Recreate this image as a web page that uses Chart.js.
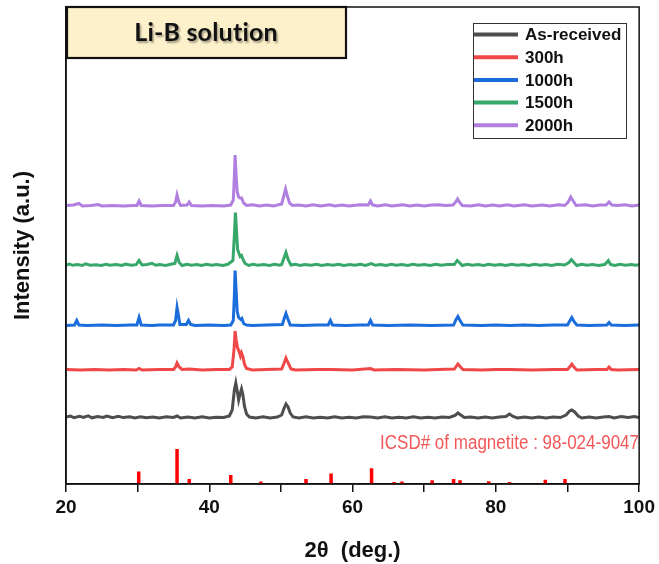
<!DOCTYPE html>
<html>
<head>
<meta charset="utf-8">
<title>Li-B solution XRD</title>
<script src="https://cdn.jsdelivr.net/npm/chart.js@4.4.1/dist/chart.umd.min.js"></script>
<style>
  html, body { margin: 0; padding: 0; background: #fff; }
  #wrap { width: 659px; height: 564px; position: relative; }
</style>
</head>
<body>
<div id="wrap"><canvas id="xrd"></canvas></div>
<script>
// [2θ, intensity] pairs, each trace above its own baseline (a.u.)
const asReceived = [
  [20,1],[20.6,2],[21.1,0.3],[21.9,1.8],[22.4,0.5],[23.1,2.2],[23.6,0.2],[24.4,1.5],[25.2,0.6],[25.7,2],
  [26.5,0.3],[27.3,1.6],[28,0.4],[28.9,1.2],[29.6,0],[30.4,1.3],[31.2,0.2],[32.1,0.9],[33,0],[34,1.2],[35,0.5],[35.5,2],[36,0],
  [37,1],[38,0],[39,1.2],[40,0],[41,0.8],[42,0.5],[42.8,2],[43.2,8],[43.5,28],[43.7,35],[43.9,27],
  [44.1,18],[44.3,24],[44.5,29],[44.7,23],[44.9,12],[45.2,4],[45.6,1],[46.5,0],[47.5,1.2],[48.5,0],
  [49.5,1],[50.1,3],[50.4,9],[50.7,14],[51,11],[51.3,5],[51.7,1],[52.5,0],[53.5,1.2],[54.5,0],
  [55.5,0.8],[56.5,0],[57.5,1.2],[58.5,0],[59.5,0.8],[60.5,0],[61.5,1.2],[62.5,1],[63.5,0],[64.5,1.2],
  [65.5,0],[66.5,0.8],[67.5,0],[68.5,1.2],[69.5,0],[70.5,0.8],[71.5,0],[72.5,1],[73.5,0.5],[74.3,2.5],
  [74.7,5],[75.1,3],[75.6,0.5],[76.5,1],[77.5,0],[78.5,1],[79.5,0],[80.5,1],[81.4,1.5],[81.9,4],
  [82.4,1.5],[83,0],[84,1],[85,0],[86,1],[87,0],[88,1],[89,0.5],[89.8,3],[90.3,7],[90.6,8],[91,6],
  [91.5,2],[92,0],[93,1],[94,0],[95,1],[95.8,1.5],[96.5,0],[97.5,1.5],[98.5,0.5],[99.3,1.5],[100,0.5]
];
const h300 = [
  [20,0.5],[22,0],[24,0.5],[26,0],[28,0.5],[29.8,0],[30.2,1.5],[30.6,0],[33,0.5],[35,0.5],[35.3,3],
  [35.5,7],[35.8,3],[36.2,0.5],[37.2,1],[39,0],[41,0.5],[42.8,0.5],[43.2,3],[43.45,20],[43.6,39],
  [43.75,30],[43.95,22],[44.15,19],[44.35,14],[44.5,17],[44.7,13],[44.9,6],[45.2,1.5],[46,0],[48,0.5],
  [50.1,1],[50.4,6],[50.7,12],[51,7],[51.4,1],[52,0],[55,0.5],[57,0.5],[60,0],[62.5,1.5],[63,0],
  [66,0.5],[70,0],[72,0.5],[74.2,1],[74.5,4],[74.7,6],[75,3.5],[75.4,0.5],[78,0],[80,0.5],[82,0.5],
  [85,0],[88,0.5],[90,0.5],[90.3,3],[90.6,6],[90.9,3],[91.3,0],[94,0.5],[95.5,0.5],[95.8,3],[96.1,0.5],
  [97,0],[100,0.5]
];
const h1000 = [
  [20,0],[21.2,0.5],[21.5,5],[21.8,0.5],[23,0],[25,0.5],[27,0],[29,0.5],[29.9,0.5],[30.2,8],[30.5,0.5],
  [32,0],[33,0.5],[35,0.5],[35.3,5],[35.5,18],[35.7,10],[35.9,1],[36.8,1],[37.1,5],[37.4,1],[38,0],
  [40,0.5],[42,0],[43,0.5],[43.35,5],[43.5,30],[43.6,55],[43.75,35],[43.9,14],[44.1,8],[44.4,6],
  [44.55,7],[44.8,2],[45.2,0.5],[46,0],[48,0.5],[50.2,1],[50.5,8],[50.7,12],[50.95,7],[51.3,0.5],
  [53,0],[55,0.5],[56.6,0.5],[56.9,5],[57.2,0.5],[59,0],[61,0.5],[62.2,0.5],[62.5,5],[62.8,0.5],
  [65,0],[68,0.5],[71,0],[74.1,0.5],[74.45,6],[74.7,9],[75,5],[75.4,0.5],[78,0],[80,0.5],[82,0],
  [84,0.5],[86,0],[88,0.5],[90,0.5],[90.35,5],[90.6,8],[90.9,4],[91.3,0.5],[93,0],[95.5,0.5],
  [95.8,3],[96.1,0.5],[98,0],[100,0.5]
];
const h1500 = [
  [20,0.5],[20.5,1.5],[20.9,0.2],[21.6,1],[22.3,0],[22.7,1.6],[23.4,0.3],[24.2,0.8],[24.9,0],[25.6,1.2],
  [26.1,0.2],[27,1],[27.8,0],[28.3,1.4],[29.1,0.2],[29.8,0.8],[30.2,5],[30.6,0.5],[31.3,1],[32,2.2],
  [32.5,0.2],[33.1,1],[33.9,0],[34.6,1.2],[35.2,2],[35.5,10],[35.8,3],[36.2,0],[36.9,1.2],[37.5,0.3],
  [38.3,1],[38.9,0],[39.6,1.3],[40.4,0.2],[41,1],[41.9,0],[42.6,1.2],[43.3,5],[43.5,30],[43.65,53],
  [43.8,35],[43.95,16],[44.15,12],[44.3,9],[44.5,10],[44.7,6],[45,2],[45.5,0],[46.1,1.2],[46.8,0.2],
  [47.6,1],[48.4,0],[49.1,1.3],[49.8,0.3],[50.1,1],[50.4,7],[50.7,13],[51,6],[51.4,0.5],[52,1.2],
  [52.7,0],[53.3,1],[54.2,0.2],[55,1.3],[55.7,0],[56.5,1],[57.3,0.2],[58,1.2],[58.8,0],[59.6,1],
  [60.3,0.2],[61.1,1.3],[61.8,0],[62.6,2],[63.2,0.2],[63.9,1],[64.7,0],[65.4,1.2],[66.1,0.2],[66.9,1],
  [67.7,0],[68.4,1.3],[69.2,0.2],[70,1],[70.8,0],[71.6,1.2],[72.4,0.2],[73.2,1],[74.2,1],[74.6,5],
  [74.9,3],[75.3,0],[76,1.2],[76.7,0.2],[77.5,1],[78.3,0],[79,1.3],[79.8,0.2],[80.6,1],[81.4,0],
  [82.2,1.2],[83,0.2],[83.8,1],[84.6,0],[85.4,1.3],[86.2,0.2],[87,1],[87.8,0],[88.6,1.2],[89.6,0.5],
  [90.2,3],[90.55,6],[90.9,3],[91.3,0],[92,1.2],[92.7,0.2],[93.5,1],[94.3,0],[95.2,1],[95.7,5],
  [96,1],[96.6,0],[97.3,1.2],[98.1,0.2],[98.9,1],[99.5,0.2],[100,0.8]
];
const h2000 = [
  [20,0.5],[21,1],[21.8,2.5],[22.3,0],[23.5,0.5],[24.5,1.5],[25,0],[26.5,0.5],[28,0],[29.5,0.5],
  [29.9,0.5],[30.2,5],[30.5,0.5],[32,0],[33.5,0.5],[35,0.5],[35.3,4],[35.5,11],[35.75,4],[36,0.5],
  [36.9,1],[37.2,4],[37.5,0.5],[39,0],[40.5,0.5],[42,0],[43,1],[43.35,6],[43.5,30],[43.6,51],
  [43.75,30],[43.9,14],[44.1,9],[44.3,8],[44.5,8],[44.8,3],[45.2,0.5],[46,1.2],[47,0],[48,1],[49,0],
  [50.1,2],[50.4,10],[50.65,17],[50.9,10],[51.2,3],[51.6,0.5],[52.5,1],[53.5,0],[54.5,1.2],[55.5,0],
  [56.8,1.2],[57.5,0],[58.5,1],[59.5,0],[61,1.2],[62.2,1],[62.5,5],[62.8,1],[63.5,0],[64.6,1.2],
  [65.5,0],[67,1.2],[68,0],[69,1],[70,0],[71,1],[72,1.2],[73,0.5],[74,1],[74.4,4],[74.65,7],
  [74.9,4],[75.3,0.5],[76.5,0],[77.6,1.2],[78.5,0],[79.6,1],[80.5,0],[81.6,1.2],[82.5,0],[84,1.2],
  [85,0],[86.5,1],[87.5,0],[88.8,1.2],[89.6,0.5],[90.1,4],[90.45,9],[90.8,5],[91.2,0.5],[92.5,1.2],
  [93.5,0],[94.5,1],[95.4,1],[95.8,4],[96.2,1],[97,0.5],[98,1.2],[99,0],[100,1]
];

const seriesLabels = ["As-received", "300h", "1000h", "1500h", "2000h"];
const seriesData = [asReceived, h300, h1000, h1500, h2000];
const seriesOffsets = [66, 114, 158.5, 218.5, 278];   // vertical stacking of the traces
const seriesColors = ["#4e4e4e", "#f04848", "#1b6ddc", "#37a86a", "#b07fe0"];

// ICSD 98-024-9047 magnetite reference lines (relative intensity, %)
const icsdPositions = [30.15, 35.5, 37.2, 43.0, 47.2, 53.5, 57.0, 62.65, 65.8, 66.9, 71.1, 74.1, 75.0, 79.0, 81.9, 86.9, 89.65];
const icsdIntensities = [36, 100, 14, 26, 7, 14, 30, 45, 6, 7, 11, 14, 11, 8, 6, 12, 14];
const icsdScale = 0.35;

const xLabels = [20, 40, 60, 80, 100];
const titleText = "Li-B solution";
const icsdText = "ICSD# of magnetite : 98-024-9047";

const sans = "'Liberation Sans', Arial, sans-serif";

const datasets = seriesData.map((pts, i) => ({
  label: seriesLabels[i],
  data: pts.map(p => ({ x: p[0], y: p[1] + seriesOffsets[i] })),
  borderColor: seriesColors[i],
  borderWidth: 3,
  pointRadius: 0,
  tension: 0,
  fill: false
}));

const stickPts = [];
icsdPositions.forEach((p, i) => {
  stickPts.push({ x: p, y: 0 }, { x: p, y: icsdIntensities[i] * icsdScale }, { x: p, y: null });
});
datasets.push({
  label: "ICSD",
  data: stickPts,
  borderColor: "#ff0000",
  borderWidth: 3.5,
  borderCapStyle: "butt",
  pointRadius: 0,
  spanGaps: false,
  isStick: true
});

// frame, title box, legend, ICSD note
const decor = {
  id: "decor",
  afterDraw(chart) {
    const ctx = chart.ctx;
    const a = chart.chartArea;
    ctx.save();
    ctx.strokeStyle = "#111";
    ctx.lineWidth = 1.5;
    ctx.strokeRect(a.left, a.top, a.right - a.left, a.bottom - a.top);

    // title box
    ctx.fillStyle = "#fdf1cb";
    ctx.fillRect(67, 7, 279, 51);
    ctx.lineWidth = 2.2;
    ctx.strokeStyle = "#111";
    ctx.strokeRect(67, 7, 279, 51);
    ctx.font = "bold 25px Lato, 'Open Sans', sans-serif";
    ctx.letterSpacing = "0.2px";   // keeps "ti" from turning into a ligature
    ctx.textAlign = "center";
    ctx.textBaseline = "middle";
    ctx.shadowColor = "rgba(0,0,0,0.35)";
    ctx.shadowOffsetX = 1.5;
    ctx.shadowOffsetY = 1.5;
    ctx.shadowBlur = 2;
    ctx.fillStyle = "#111";
    ctx.fillText(titleText, 206, 33);
    ctx.shadowColor = "transparent";
    ctx.letterSpacing = "0px";

    // legend
    ctx.fillStyle = "#fff";
    ctx.fillRect(473, 23, 153, 115);
    ctx.lineWidth = 1;
    ctx.strokeStyle = "#333";
    ctx.strokeRect(473.5, 23.5, 153, 115);
    ctx.font = "bold 17px " + sans;
    ctx.textAlign = "left";
    chart.data.datasets.filter(d => !d.isStick).forEach((d, i) => {
      const y = 34.5 + i * 22.7;
      ctx.strokeStyle = d.borderColor;
      ctx.lineWidth = 4;
      ctx.beginPath();
      ctx.moveTo(474, y);
      ctx.lineTo(518, y);
      ctx.stroke();
      ctx.fillStyle = "#111";
      ctx.fillText(d.label, 525, y + 1);
    });

    // ICSD note, condensed like a narrow face
    ctx.font = "20px " + sans;
    ctx.fillStyle = "#f25858";
    ctx.textAlign = "right";
    ctx.translate(639, 443);
    ctx.scale(0.85, 1);
    ctx.fillText(icsdText, 0, 0);
    ctx.restore();
  }
};

new Chart(document.getElementById("xrd"), {
  type: "line",
  data: { datasets },
  options: {
    responsive: true,
    maintainAspectRatio: false,
    animation: false,
    devicePixelRatio: 1,
    layout: { padding: { top: 7, right: 17, left: 0, bottom: 0 } },
    plugins: { legend: { display: false }, tooltip: { enabled: false } },
    scales: {
      x: {
        type: "linear",
        min: 20,
        max: 100,
        afterFit: s => { s.height = 80; },
        ticks: {
          stepSize: 10,
          autoSkip: false,
          maxRotation: 0,
          padding: 4,
          color: "#111",
          font: { family: sans, size: 19, weight: "bold" },
          callback: v => (xLabels.includes(v) ? v : "")
        },
        grid: { display: true, drawOnChartArea: false, drawTicks: true, tickLength: 8, color: "#111", lineWidth: 1.5 },
        border: { display: true, color: "#111", width: 1.5 },
        title: {
          display: true,
          text: "2θ  (deg.)",
          color: "#111",
          padding: { top: 3, bottom: 0 },
          font: { family: sans, size: 22, weight: "bold" }
        }
      },
      y: {
        min: 0,
        max: 477,
        afterFit: s => { s.width = 66; },
        ticks: { display: false },
        grid: { display: false },
        border: { display: true, color: "#111", width: 1.5 },
        title: {
          display: true,
          text: "Intensity (a.u.)",
          color: "#111",
          padding: { top: 10, bottom: 0 },
          font: { family: sans, size: 22, weight: "bold" }
        }
      }
    }
  },
  plugins: [decor]
});
</script>
</body>
</html>
